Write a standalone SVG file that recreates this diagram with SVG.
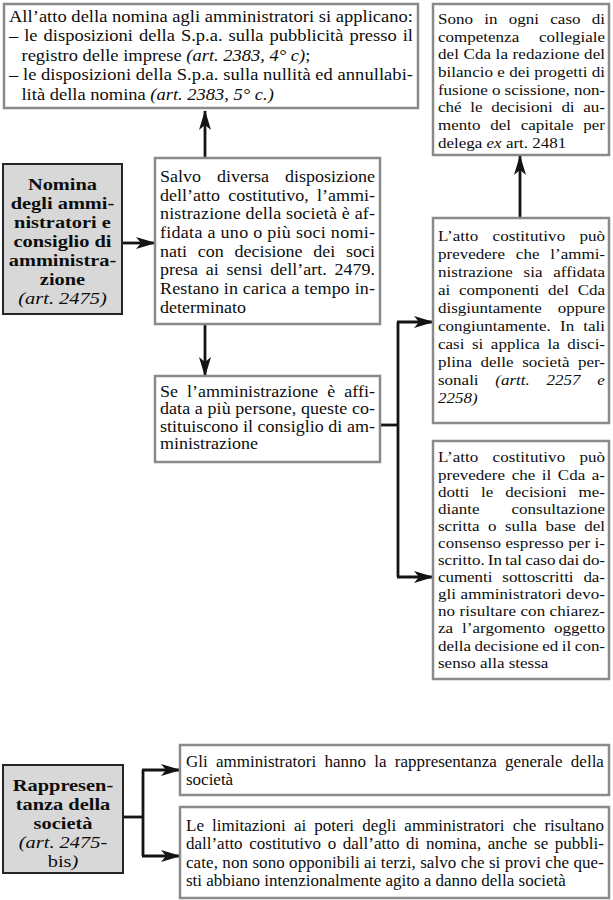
<svg xmlns="http://www.w3.org/2000/svg" width="613" height="900" viewBox="0 0 613 900">
  <style>
    .box { fill: #ffffff; stroke: #8a8a8a; stroke-width: 2.5; }
    .node { fill: #d8d8d8; stroke: #262626; stroke-width: 2; }
    .t { font-family: "Liberation Serif", "Times New Roman", serif; fill: #0d0d0d; }
    .r { font-size: 15.5px; }
    .c { font-size: 16.3px; }
    .a { font-size: 17.5px; }
    .b { font-size: 16.2px; }
    .h { font-family: "Liberation Serif", "Times New Roman", serif; font-size: 17px; font-weight: bold; fill: #0d0d0d; text-anchor: middle; }
    .hi { font-weight: normal; font-style: italic; }
    .i { font-style: italic; }
    .n { font-style: normal; }
    .link { fill: none; stroke: #141414; stroke-width: 2.8; }
  </style>
  <defs>
    <marker id="arrow" viewBox="0 0 20 12" markerWidth="20" markerHeight="12" refX="19" refY="6" orient="auto" markerUnits="userSpaceOnUse">
      <path d="M0,0 L20,6 L0,12 L5,6 Z" fill="#141414"/>
    </marker>
  </defs>

  <!-- connectors -->
  <g id="connectors">
    <path class="link" d="M205,158 L205,111" marker-end="url(#arrow)"/>
    <path class="link" d="M123,243 L155,243" marker-end="url(#arrow)"/>
    <path class="link" d="M205,324 L205,376" marker-end="url(#arrow)"/>
    <path class="link" d="M380,425 L398,425"/>
    <path class="link" d="M398,322 L398,577"/>
    <path class="link" d="M397,322 L433,322" marker-end="url(#arrow)"/>
    <path class="link" d="M397,577 L433,577" marker-end="url(#arrow)"/>
    <path class="link" d="M520,218 L520,156" marker-end="url(#arrow)"/>
    <path class="link" d="M123,817 L143,817"/>
    <path class="link" d="M143,770 L143,856"/>
    <path class="link" d="M142,770 L180,770" marker-end="url(#arrow)"/>
    <path class="link" d="M142,856 L180,856" marker-end="url(#arrow)"/>
  </g>

  <!-- appointment publicity rules -->
  <g id="pubblicita">
    <rect class="box" x="4" y="4" width="414" height="104"/>
    <g transform="matrix(1.0571 0 0 1 9 0)">
      <text class="t a" x="0" y="22" textLength="382.2" lengthAdjust="spacing">All’atto della nomina agli amministratori si applicano:</text>
      <text class="t a" x="0" y="41.5" textLength="382.2" lengthAdjust="spacing" style="word-spacing:1.3px">– le disposizioni della S.p.a. sulla pubblicità presso il</text>
      <text class="t a" x="11.8" y="61">registro delle imprese <tspan class="i">(art. 2383, 4° c)</tspan>;</text>
      <text class="t a" x="0" y="80.5" textLength="382.2" lengthAdjust="spacing">– le disposizioni della S.p.a. sulla nullità ed annullabi-</text>
      <text class="t a" x="11.8" y="100">lità della nomina <tspan class="i">(art. 2383, 5° c.)</tspan></text>
    </g>
  </g>

  <!-- board collegial duties -->
  <g id="competenza">
    <rect class="box" x="433" y="4" width="176" height="151"/>
    <g transform="matrix(1.0968 0 0 1 438 0)">
      <text class="t r" x="0" y="24" textLength="152.3" lengthAdjust="spacing" style="word-spacing:6.4px">Sono in ogni caso di</text>
      <text class="t r" x="0" y="41.7" textLength="152.3" lengthAdjust="spacing" style="word-spacing:14.1px">competenza collegiale</text>
      <text class="t r" x="0" y="59.4" textLength="152.3" lengthAdjust="spacing">del Cda la redazione del</text>
      <text class="t r" x="0" y="77.1" textLength="152.3" lengthAdjust="spacing">bilancio e dei progetti di</text>
      <text class="t r" x="0" y="94.8" textLength="152.3" lengthAdjust="spacing">fusione o scissione, non-</text>
      <text class="t r" x="0" y="112.5" textLength="152.3" lengthAdjust="spacing" style="word-spacing:4.1px">ché le decisioni di au-</text>
      <text class="t r" x="0" y="130.2" textLength="152.3" lengthAdjust="spacing" style="word-spacing:5px">mento del capitale per</text>
      <text class="t r" x="0" y="147.9">delega <tspan class="i">ex</tspan> art. 2481</text>
    </g>
  </g>

  <!-- appointment of directors -->
  <g id="nomina">
    <rect class="node" x="3" y="164" width="119" height="150"/>
    <g transform="matrix(1.2 0 0 1 62.5 0)">
      <text class="h" x="0" y="190">Nomina</text>
      <text class="h" x="0" y="209">degli ammi-</text>
      <text class="h" x="0" y="228">nistratori e</text>
      <text class="h" x="0" y="247">consiglio di</text>
      <text class="h" x="0" y="266">amministra-</text>
      <text class="h" x="0" y="285">zione</text>
      <text class="h hi" x="0" y="304">(art. 2475)</text>
    </g>
  </g>

  <!-- default administration -->
  <g id="amministrazione">
    <rect class="box" x="155" y="158" width="225" height="166"/>
    <g transform="matrix(1.1043 0 0 1 160 0)">
      <text class="t c" x="0" y="182" textLength="194.7" lengthAdjust="spacing" style="word-spacing:10.4px">Salvo diversa disposizione</text>
      <text class="t c" x="0" y="200.7" textLength="194.7" lengthAdjust="spacing" style="word-spacing:3.2px">dell’atto costitutivo, l’ammi-</text>
      <text class="t c" x="0" y="219.4" textLength="194.7" lengthAdjust="spacing">nistrazione della società è af-</text>
      <text class="t c" x="0" y="238.1" textLength="194.7" lengthAdjust="spacing">fidata a uno o più soci nomi-</text>
      <text class="t c" x="0" y="256.8" textLength="194.7" lengthAdjust="spacing" style="word-spacing:5.6px">nati con decisione dei soci</text>
      <text class="t c" x="0" y="275.5" textLength="194.7" lengthAdjust="spacing" style="word-spacing:2.9px">presa ai sensi dell’art. 2479.</text>
      <text class="t c" x="0" y="294.2" textLength="194.7" lengthAdjust="spacing">Restano in carica a tempo in-</text>
      <text class="t c" x="0" y="312.9">determinato</text>
    </g>
  </g>

  <!-- board of directors -->
  <g id="consiglio">
    <rect class="box" x="155" y="376" width="225" height="86"/>
    <g transform="matrix(1.1043 0 0 1 160 0)">
      <text class="t c" x="0" y="397" textLength="194.7" lengthAdjust="spacing" style="word-spacing:4.1px">Se l’amministrazione è affi-</text>
      <text class="t c" x="0" y="414.5" textLength="194.7" lengthAdjust="spacing">data a più persone, queste co-</text>
      <text class="t c" x="0" y="432" textLength="194.7" lengthAdjust="spacing">stituiscono il consiglio di am-</text>
      <text class="t c" x="0" y="449.5">ministrazione</text>
    </g>
  </g>

  <!-- joint / several administration -->
  <g id="disgiuntiva">
    <rect class="box" x="433" y="218" width="176" height="205"/>
    <g transform="matrix(1.0968 0 0 1 438 0)">
      <text class="t r" x="0" y="241" textLength="152.3" lengthAdjust="spacing" style="word-spacing:9px">L’atto costitutivo può</text>
      <text class="t r" x="0" y="259" textLength="152.3" lengthAdjust="spacing" style="word-spacing:5.9px">prevedere che l’ammi-</text>
      <text class="t r" x="0" y="277" textLength="152.3" lengthAdjust="spacing" style="word-spacing:5.9px">nistrazione sia affidata</text>
      <text class="t r" x="0" y="295" textLength="152.3" lengthAdjust="spacing" style="word-spacing:4.1px">ai componenti del Cda</text>
      <text class="t r" x="0" y="313" textLength="152.3" lengthAdjust="spacing" style="word-spacing:10.7px">disgiuntamente oppure</text>
      <text class="t r" x="0" y="331" textLength="152.3" lengthAdjust="spacing" style="word-spacing:4.5px">congiuntamente. In tali</text>
      <text class="t r" x="0" y="349" textLength="152.3" lengthAdjust="spacing" style="word-spacing:3px">casi si applica la disci-</text>
      <text class="t r" x="0" y="367" textLength="152.3" lengthAdjust="spacing" style="word-spacing:3.8px">plina delle società per-</text>
      <text class="t r" x="0" y="385" style="word-spacing:11.4px">sonali <tspan class="i">(artt. 2257 e</tspan></text>
      <text class="t r i" x="0" y="403">2258)</text>
    </g>
  </g>

  <!-- written consultation -->
  <g id="consultazione">
    <rect class="box" x="433" y="441" width="176" height="238"/>
    <g transform="matrix(1.0968 0 0 1 438 0)">
      <text class="t r" x="0" y="462.5" textLength="152.3" lengthAdjust="spacing" style="word-spacing:9px">L’atto costitutivo può</text>
      <text class="t r" x="0" y="479.6" textLength="152.3" lengthAdjust="spacing" style="word-spacing:2.1px">prevedere che il Cda a-</text>
      <text class="t r" x="0" y="496.7" textLength="152.3" lengthAdjust="spacing" style="word-spacing:7px">dotti le decisioni me-</text>
      <text class="t r" x="0" y="513.8" textLength="152.3" lengthAdjust="spacing" style="word-spacing:25.3px">diante consultazione</text>
      <text class="t r" x="0" y="530.9" textLength="152.3" lengthAdjust="spacing" style="word-spacing:3.8px">scritta  o sulla base del</text>
      <text class="t r" x="0" y="548" textLength="152.3" lengthAdjust="spacing">consenso espresso per i-</text>
      <text class="t r" x="0" y="565.1" textLength="152.3" lengthAdjust="spacing" style="word-spacing:-1px">scritto. In tal caso dai do-</text>
      <text class="t r" x="0" y="582.2" textLength="152.3" lengthAdjust="spacing" style="word-spacing:5.2px">cumenti sottoscritti da-</text>
      <text class="t r" x="0" y="599.3" textLength="152.3" lengthAdjust="spacing">gli amministratori devo-</text>
      <text class="t r" x="0" y="616.4" textLength="152.3" lengthAdjust="spacing">no risultare con chiarez-</text>
      <text class="t r" x="0" y="633.5" textLength="152.3" lengthAdjust="spacing" style="word-spacing:4.2px">za l’argomento oggetto</text>
      <text class="t r" x="0" y="650.6" textLength="152.3" lengthAdjust="spacing" style="word-spacing:-0.6px">della decisione ed il con-</text>
      <text class="t r" x="0" y="667.7">senso alla stessa</text>
    </g>
  </g>

  <!-- representation of the company -->
  <g id="rappresentanza">
    <rect class="node" x="3" y="765" width="120" height="108"/>
    <g transform="matrix(1.2 0 0 1 63 0)">
      <text class="h" x="0" y="791">Rappresen-</text>
      <text class="h" x="0" y="810">tanza della</text>
      <text class="h" x="0" y="829">società</text>
      <text class="h hi" x="0" y="848">(art. 2475-</text>
      <text class="h hi" x="0" y="867"><tspan class="n">bis</tspan>)</text>
    </g>
  </g>

  <!-- general representation -->
  <g id="generale">
    <rect class="box" x="180" y="745" width="429" height="50"/>
    <g transform="matrix(1.049 0 0 1 186 0)">
      <text class="t b" x="0" y="767" textLength="398.4" lengthAdjust="spacing" style="word-spacing:3.8px">Gli amministratori hanno la rappresentanza generale della</text>
      <text class="t b" x="0" y="785">società</text>
    </g>
  </g>

  <!-- limits on powers -->
  <g id="limitazioni">
    <rect class="box" x="180" y="807" width="429" height="91"/>
    <g transform="matrix(1.049 0 0 1 186 0)">
      <text class="t b" x="0" y="831" textLength="398.4" lengthAdjust="spacing" style="word-spacing:3.7px">Le limitazioni ai poteri degli amministratori che risultano</text>
      <text class="t b" x="0" y="849.5" textLength="398.4" lengthAdjust="spacing" style="word-spacing:2.3px">dall’atto costitutivo o dall’atto di nomina, anche se pubbli-</text>
      <text class="t b" x="0" y="868" textLength="398.4" lengthAdjust="spacing">cate, non sono opponibili ai terzi, salvo che si provi che que-</text>
      <text class="t b" x="0" y="886.5">sti abbiano intenzionalmente agito a danno della società</text>
    </g>
  </g>
</svg>
